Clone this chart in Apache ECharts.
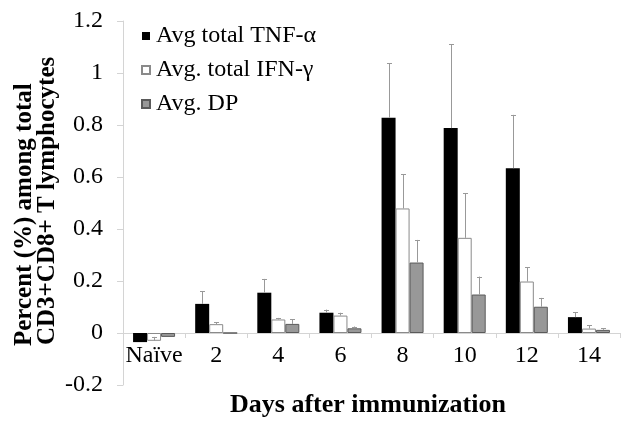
<!DOCTYPE html>
<html>
<head>
<meta charset="utf-8">
<script src="https://cdn.jsdelivr.net/npm/echarts@6/dist/echarts.min.js"></script>
<style>html,body{margin:0;padding:0;background:#fff;}#c{width:629px;height:422px;}</style>
</head>
<body>
<div id="c"></div>
<script>
const categories = ['Naïve', '2', '4', '6', '8', '10', '12', '14'];
const seriesNames = ['Avg total TNF-α', 'Avg. total IFN-γ', 'Avg. DP'];
const tnfValues = [-0.035, 0.112, 0.155, 0.078, 0.828, 0.788, 0.634, 0.061];
const ifnValues = [-0.030, 0.034, 0.052, 0.067, 0.479, 0.366, 0.198, 0.017];
const dpValues  = [-0.015, 0.000, 0.035, 0.018, 0.271, 0.148, 0.101, 0.012];
const tnfErrors = [0, 0.048, 0.053, 0.012, 0.210, 0.323, 0.205, 0.019];
const ifnErrors = [0.015, 0.008, 0.006, 0.011, 0.132, 0.172, 0.054, 0.012];
const dpErrors  = [0, 0, 0.017, 0.007, 0.087, 0.069, 0.034, 0.006];
const yTicks = [-0.2, 0, 0.2, 0.4, 0.6, 0.8, 1, 1.2];

const FONT = '"Liberation Serif", "Times New Roman", serif';
const chart = echarts.init(document.getElementById('c'), null, {renderer: 'canvas'});

const barStyles = [
  {color: '#000000', borderColor: '#000000', borderWidth: 0},
  {color: '#ffffff', borderColor: '#8a8a8a', borderWidth: 1},
  {color: '#989898', borderColor: '#5a5a5a', borderWidth: 1}
];
const allValues = [tnfValues, ifnValues, dpValues];
const allErrors = [tnfErrors, ifnErrors, dpErrors];
const BAR_W = 14;

const series = [];
allValues.forEach((vals, i) => {
  series.push({
    name: seriesNames[i],
    type: 'bar',
    data: vals,
    barWidth: BAR_W,
    barGap: '0%',
    itemStyle: barStyles[i],
    z: 2
  });
});
allValues.forEach((vals, i) => {
  series.push({
    type: 'custom',
    name: 'err' + i,
    data: vals.map((v, k) => [k, v, allErrors[i][k]]),
    z: 5,
    silent: true,
    renderItem: function (params, api) {
      const x = api.value(0), v = api.value(1), e = api.value(2);
      if (!e) return null;
      const off = (i - 1) * BAR_W;
      const p0 = api.coord([x, v]);
      const p1 = api.coord([x, v + e]);
      const cx = Math.round(p0[0] + off) + 0.5;
      const style = {stroke: '#999999', lineWidth: 1};
      return {
        type: 'group',
        children: [
          {type: 'line', shape: {x1: cx, y1: p0[1], x2: cx, y2: p1[1]}, style: style},
          {type: 'line', shape: {x1: cx - 2.5, y1: Math.round(p1[1]) + 0.5, x2: cx + 2.5, y2: Math.round(p1[1]) + 0.5}, style: style}
        ]
      };
    }
  });
});

chart.setOption({
  animation: false,
  backgroundColor: '#ffffff',
  grid: {left: 123, right: 9, top: 21, bottom: 37, containLabel: false},
  legend: {
    data: seriesNames,
    orient: 'vertical',
    left: 136,
    top: 19,
    itemWidth: 8,
    itemHeight: 8,
    itemGap: 10,
    icon: 'rect',
    textStyle: {fontFamily: FONT, fontSize: 24, color: '#000', padding: [0, 0, 0, 1]}
  },
  xAxis: {
    type: 'category',
    data: categories,
    position: 'bottom',
    offset: -52,
    axisLine: {onZero: false, lineStyle: {color: '#d4d4d4', width: 1}},
    axisTick: {show: true, length: 5, lineStyle: {color: '#d4d4d4'}},
    axisLabel: {fontFamily: FONT, fontSize: 24, color: '#000', margin: 11, interval: 0},
    splitLine: {show: false}
  },
  yAxis: {
    type: 'value',
    min: -0.2,
    max: 1.2,
    interval: 0.2,
    axisLine: {show: true, lineStyle: {color: '#d4d4d4', width: 1}},
    axisTick: {show: true, length: 6, lineStyle: {color: '#d4d4d4'}},
    axisLabel: {
      fontFamily: FONT, fontSize: 24, color: '#000', margin: 20,
      formatter: function (v) {
        const r = Math.round(v * 10) / 10;
        const found = yTicks.find(t => Math.abs(t - r) < 1e-9);
        return found === undefined ? '' : String(found);
      }
    },
    splitLine: {show: false}
  },
  graphic: [
    {
      type: 'text',
      x: 368, y: 405,
      style: {text: 'Days after immunization', font: 'bold 26px ' + FONT, fill: '#000', textAlign: 'center', textVerticalAlign: 'middle'}
    },
    {
      type: 'text',
      x: 25, y: 346, rotation: Math.PI / 2,
      style: {text: 'Percent (%) among total', font: 'bold 25px ' + FONT, fill: '#000', textAlign: 'left', textVerticalAlign: 'middle'}
    },
    {
      type: 'text',
      x: 48, y: 345, rotation: Math.PI / 2,
      style: {text: 'CD3+CD8+ T lymphocytes', font: 'bold 25px ' + FONT, fill: '#000', textAlign: 'left', textVerticalAlign: 'middle'}
    }
  ],
  series: series
});
</script>
</body>
</html>
